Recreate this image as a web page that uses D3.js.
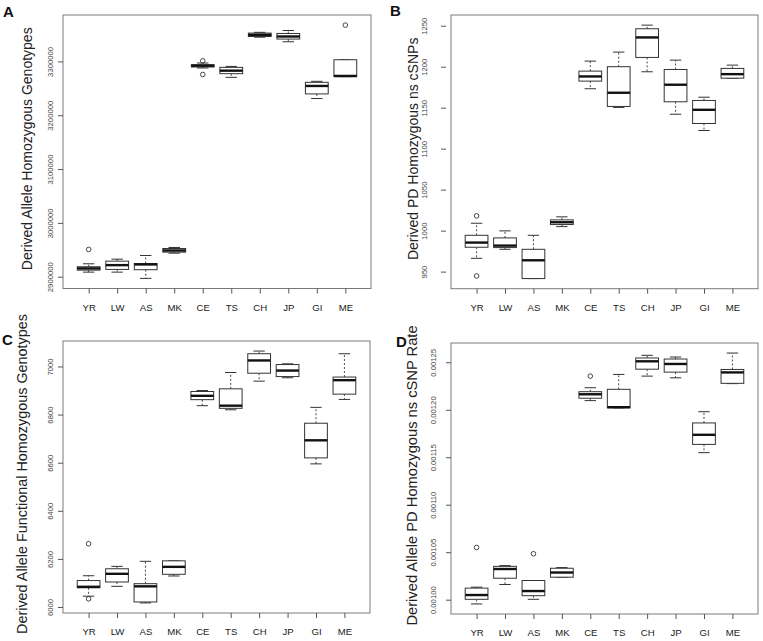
<!DOCTYPE html>
<html>
<head>
<meta charset="utf-8">
<script src="https://cdn.jsdelivr.net/npm/d3@7"></script>
<style>
  body { margin: 0; background: #fff; }
  svg { display: block; font-family: "Liberation Sans", Arial, sans-serif; }
</style>
</head>
<body>
<svg id="chart" width="763" height="641"></svg>
<script>
// box plots of four measures across ten populations

const categories = ['YR', 'LW', 'AS', 'MK', 'CE', 'TS', 'CH', 'JP', 'GI', 'ME'];

// A: derived allele homozygous genotypes
const aLow  = [2908500, 2908500, 2896900, 2943700, 3287800, 3270400, 3345000, 3336500, 3231000, 3271700];
const aQ1   = [2912200, 2913500, 2913000, 2945600, 3289600, 3277200, 3346300, 3341500, 3239600, 3271700];
const aMed  = [2915400, 2921500, 2922800, 2948700, 3292000, 3282800, 3349400, 3346300, 3254400, 3273000];
const aQ3   = [2918500, 2928900, 2924500, 2952400, 3293900, 3288900, 3352600, 3351900, 3261100, 3303100];
const aHigh = [2924000, 2932600, 2939400, 2954300, 3297000, 3290700, 3354000, 3357400, 3263000, 3303100];
const aOut  = [['YR', 2950600], ['CE', 3301000], ['CE', 3275700], ['ME', 3367400]];
const aTicks = [2900000, 3000000, 3100000, 3200000, 3300000];

// B: derived PD homozygous ns cSNPs
const bLow  = [966.2, 977.2, 941.5, 1004.9, 1173.1, 1150.3, 1193.8, 1142.0, 1122.2, 1186.0];
const bQ1   = [979.7, 979.3, 941.5, 1007.4, 1182.4, 1151.5, 1211.3, 1157.2, 1130.7, 1186.0];
const bMed  = [985.4, 981.7, 963.8, 1010.2, 1188.1, 1168.2, 1235.7, 1178.0, 1147.4, 1190.9];
const bQ3   = [994.3, 991.1, 977.2, 1013.1, 1194.6, 1200.0, 1246.3, 1196.6, 1158.8, 1197.9];
const bHigh = [1009.0, 999.7, 994.3, 1016.8, 1206.8, 1217.8, 1250.7, 1208.0, 1162.8, 1201.9];
const bOut  = [['YR', 1018], ['YR', 944.7]];
const bTicks = [950, 1000, 1050, 1100, 1150, 1200, 1250];

// C: derived allele functional homozygous genotypes
const cLow  = [6045, 6086, 6017, 6129, 6837, 6820, 6939, 6953, 6595, 6863];
const cQ1   = [6080, 6104, 6021, 6136, 6862, 6826, 6972, 6958, 6620, 6885];
const cMed  = [6084, 6138, 6086, 6167, 6878, 6837, 7025, 6983, 6693, 6943];
const cQ3   = [6110, 6159, 6097, 6192, 6896, 6907, 7053, 7008, 6764, 6956];
const cHigh = [6130, 6169, 6190, 6192, 6900, 6975, 7064, 7011, 6830, 7053];
const cOut  = [['YR', 6263], ['YR', 6034]];
const cTicks = [6000, 6200, 6400, 6600, 6800, 7000];

// D: derived allele PD homozygous ns cSNP rate
const dLow  = [0.0009955, 0.0010160, 0.0010004, 0.0010237, 0.0012096, 0.0012020, 0.0012354, 0.0012336, 0.0011548, 0.0012275];
const dQ1   = [0.0010004, 0.0010226, 0.0010042, 0.0010237, 0.0012121, 0.0012020, 0.0012427, 0.0012396, 0.0011635, 0.0012278];
const dMed  = [0.0010049, 0.0010323, 0.0010091, 0.0010286, 0.0012163, 0.0012027, 0.0012510, 0.0012482, 0.0011736, 0.0012393];
const dQ3   = [0.0010122, 0.0010351, 0.0010202, 0.0010331, 0.0012190, 0.0012215, 0.0012545, 0.0012534, 0.0011861, 0.0012424];
const dHigh = [0.0010132, 0.0010359, 0.0010202, 0.0010338, 0.0012232, 0.0012372, 0.0012573, 0.0012555, 0.0011979, 0.0012597];
const dOut  = [['YR', 0.0010550], ['AS', 0.0010484], ['CE', 0.0012354]];
const dTicks = [0.00100, 0.00105, 0.00110, 0.00115, 0.00120, 0.00125];

const svg = d3.select('#chart');

const panels = [
  { letter: 'A', lx: 3, ly: 17, title: 'Derived Allele Homozygous Genotypes', titleX: 27, titleSize: 14,
    box: { x0: 63, x1: 371, y0: 15, y1: 288.5 }, labelOff: 13, tickGap: 0,
    low: aLow, q1: aQ1, med: aMed, q3: aQ3, high: aHigh, out: aOut, ticks: aTicks, fmt: d3.format('d') },
  { letter: 'B', lx: 390, ly: 16, title: 'Derived PD Homozygous ns cSNPs', titleX: 413, titleSize: 14,
    box: { x0: 451, x1: 758, y0: 15, y1: 288.7 }, labelOff: 27, tickGap: 5,
    low: bLow, q1: bQ1, med: bMed, q3: bQ3, high: bHigh, out: bOut, ticks: bTicks, fmt: d3.format('d') },
  { letter: 'C', lx: 2, ly: 345, title: 'Derived Allele Functional Homozygous Genotypes', titleX: 22, titleSize: 14.4,
    box: { x0: 63, x1: 370, y0: 341, y1: 613 }, labelOff: 13, tickGap: 0,
    low: cLow, q1: cQ1, med: cMed, q3: cQ3, high: cHigh, out: cOut, ticks: cTicks, fmt: d3.format('d') },
  { letter: 'D', lx: 396, ly: 347, title: 'Derived Allele PD Homozygous ns cSNP Rate', titleX: 412, titleSize: 14.7,
    box: { x0: 451, x1: 758, y0: 343, y1: 614 }, labelOff: 18, tickGap: 0,
    low: dLow, q1: dQ1, med: dMed, q3: dQ3, high: dHigh, out: dOut, ticks: dTicks, fmt: d3.format('.5f') }
];

function drawPanel(p) {
  const b = p.box;
  const g = svg.append('g');

  // R style: categories at 1..10, limits padded by 4%
  const x = d3.scalePoint().domain(categories).range([b.x0, b.x1]).padding(0.9);
  const step = x.step();
  const boxW = step * 0.8;

  const all = p.low.concat(p.high, p.out.map(d => d[1]));
  const lo = d3.min(all), hi = d3.max(all);
  const pad = (hi - lo) * 0.04;
  const y = d3.scaleLinear().domain([lo - pad, hi + pad]).range([b.y1, b.y0]);

  // frame
  g.append('rect')
    .attr('x', b.x0).attr('y', b.y0)
    .attr('width', b.x1 - b.x0).attr('height', b.y1 - b.y0)
    .attr('fill', 'none').attr('stroke', '#7a7a7a').attr('stroke-width', 1);

  // y axis
  const ya = g.append('g')
    .attr('transform', `translate(${b.x0 - p.tickGap},0)`)
    .call(d3.axisLeft(y).tickValues(p.ticks).tickSize(5).tickFormat(p.fmt));
  ya.select('.domain').remove();
  ya.selectAll('.tick line').attr('stroke', '#555');
  ya.selectAll('.tick text')
    .attr('transform', 'rotate(-90)')
    .attr('x', 0)
    .attr('y', -(p.labelOff - p.tickGap))
    .attr('dy', '0.35em')
    .attr('text-anchor', 'middle')
    .style('font-size', '7.7px')
    .style('font-family', '"Liberation Sans", Arial, sans-serif')
    .attr('fill', '#444');

  // x axis
  const xa = g.append('g')
    .attr('transform', `translate(0,${b.y1})`)
    .call(d3.axisBottom(x).tickSize(5).tickPadding(14));
  xa.select('.domain').remove();
  xa.selectAll('.tick line').attr('stroke', '#555');
  xa.selectAll('.tick text')
    .attr('dy', '0.35em')
    .style('font-size', '9.6px')
    .style('font-family', '"Liberation Sans", Arial, sans-serif')
    .attr('fill', '#1a1a1a');

  // boxes
  const rows = categories.map((c, i) => ({
    c, low: p.low[i], q1: p.q1[i], med: p.med[i], q3: p.q3[i], high: p.high[i]
  }));

  const bx = g.selectAll('.bx').data(rows).enter().append('g').attr('class', 'bx');

  // whiskers (dashed)
  bx.append('line')
    .attr('x1', d => x(d.c)).attr('x2', d => x(d.c))
    .attr('y1', d => y(d.q3)).attr('y2', d => y(d.high))
    .attr('stroke', '#333').attr('stroke-width', 0.9).attr('stroke-dasharray', '2,2');
  bx.append('line')
    .attr('x1', d => x(d.c)).attr('x2', d => x(d.c))
    .attr('y1', d => y(d.q1)).attr('y2', d => y(d.low))
    .attr('stroke', '#333').attr('stroke-width', 0.9).attr('stroke-dasharray', '2,2');

  // whisker caps
  bx.append('line')
    .attr('x1', d => x(d.c) - boxW / 4).attr('x2', d => x(d.c) + boxW / 4)
    .attr('y1', d => y(d.high)).attr('y2', d => y(d.high))
    .attr('stroke', '#333').attr('stroke-width', 1);
  bx.append('line')
    .attr('x1', d => x(d.c) - boxW / 4).attr('x2', d => x(d.c) + boxW / 4)
    .attr('y1', d => y(d.low)).attr('y2', d => y(d.low))
    .attr('stroke', '#333').attr('stroke-width', 1);

  bx.append('rect')
    .attr('x', d => x(d.c) - boxW / 2)
    .attr('y', d => y(d.q3))
    .attr('width', boxW)
    .attr('height', d => Math.max(0.5, y(d.q1) - y(d.q3)))
    .attr('fill', '#fff').attr('stroke', '#333').attr('stroke-width', 1);

  // median
  bx.append('line')
    .attr('x1', d => x(d.c) - boxW / 2).attr('x2', d => x(d.c) + boxW / 2)
    .attr('y1', d => y(d.med)).attr('y2', d => y(d.med))
    .attr('stroke', '#111').attr('stroke-width', 2.4);

  // outliers
  g.selectAll('.out').data(p.out).enter().append('circle')
    .attr('class', 'out')
    .attr('cx', d => x(d[0]))
    .attr('cy', d => y(d[1]))
    .attr('r', 2.3)
    .attr('fill', 'none').attr('stroke', '#333').attr('stroke-width', 0.9);

  // axis title
  svg.append('text')
    .attr('transform', `translate(${p.titleX},${(b.y0 + b.y1) / 2 - 3}) rotate(-90)`)
    .attr('text-anchor', 'middle')
    .attr('dy', '0.35em')
    .style('font-size', p.titleSize + 'px')
    .attr('fill', '#222')
    .text(p.title);

  // panel letter
  svg.append('text')
    .attr('x', p.lx).attr('y', p.ly)
    .style('font-size', '15px')
    .style('font-weight', 'bold')
    .attr('fill', '#111')
    .text(p.letter);
}

panels.forEach(drawPanel);
</script>
</body>
</html>
